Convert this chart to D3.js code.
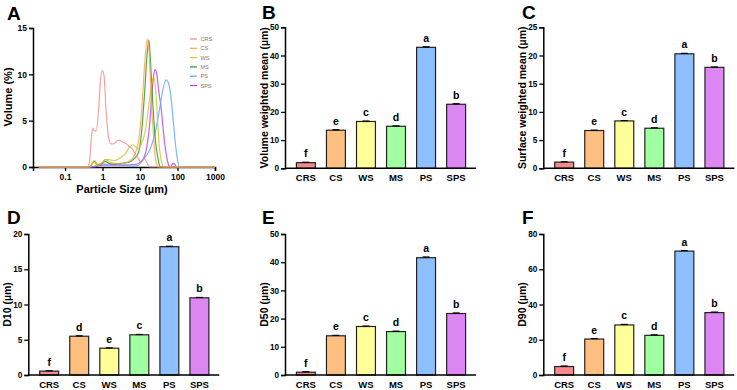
<!DOCTYPE html>
<html><head><meta charset="utf-8">
<script src="https://cdn.jsdelivr.net/npm/d3@7"></script>
<style>
html,body{margin:0;padding:0;background:#fff;}
svg{display:block;font-family:Arial,"Liberation Sans",sans-serif;}
</style></head>
<body>
<svg id="chart" width="737" height="390"></svg>
<script>
// ---------- DATA ----------
const categories = ["CRS","CS","WS","MS","PS","SPS"];
const barColors = ["#F4898C","#FFBF80","#FFFF99","#A0FFA0","#8EBFFF","#DD88F2"];
const lineColors = ["#F48A8A","#FFA040","#C8C820","#239123","#5AA5FF","#B43CE6"];

const volMean  = [2.0, 13.5, 16.6, 14.9, 42.9, 22.7];
const volErr   = [0.15, 0.2, 0.15, 0.15, 0.2, 0.2];
const volLetters = ["f","e","c","d","a","b"];

const surfMean = [1.1, 6.7, 8.4, 7.1, 20.3, 17.9];
const surfErr  = [0.05, 0.06, 0.05, 0.08, 0.08, 0.06];
const surfLetters = ["f","e","c","d","a","b"];

const d10 = [0.55, 5.5, 3.8, 5.7, 18.2, 10.95];
const d10Err = [0.05, 0.06, 0.05, 0.05, 0.06, 0.05];
const d10Letters = ["f","d","e","c","a","b"];

const d50 = [1.0, 13.9, 17.2, 15.4, 41.6, 21.8];
const d50Err = [0.15, 0.15, 0.15, 0.15, 0.25, 0.2];
const d50Letters = ["f","e","c","d","a","b"];

const d90 = [4.8, 20.4, 28.4, 22.5, 70.3, 35.4];
const d90Err = [0.3, 0.3, 0.3, 0.3, 0.3, 0.3];
const d90Letters = ["f","e","c","d","a","b"];

// particle size distribution: [size (µm), volume (%)]
const psdCRS = [[0.02,0],[0.4,0],[0.45,0.6],[0.5,3.0],[0.55,4.2],[0.6,3.9],[0.68,3.9],[0.78,6],[0.88,9.3],[1.0,10.4],[1.1,9.8],[1.25,6],[1.45,3.2],[1.7,2.5],[2.0,2.5],[2.4,2.8],[2.85,2.9],[3.4,2.7],[4.3,2.5],[5.2,2.2],[6.4,1.9],[7.5,1.4],[8.7,1.0],[10.8,0.5],[13.2,0.9],[16,0.3],[18,0],[1000,0]];
const psdCS  = [[0.02,0],[0.45,0],[0.6,0.7],[0.75,0.3],[0.9,0.4],[1.2,0.8],[1.5,0.6],[2,0.4],[3,0.35],[4,0.4],[5,0.6],[6.5,1.0],[8,1.8],[9.7,3.5],[11,6],[12,8.3],[13.5,11.5],[15.5,13.8],[17,13],[18.7,9.9],[20,7],[22,4.5],[24,2.2],[26,0.9],[28,0.2],[30,0],[1000,0]];
const psdWS  = [[0.02,0],[0.45,0],[0.6,0.5],[0.75,0.2],[0.9,0.3],[1.2,0.8],[1.5,0.8],[2,0.7],[2.5,0.8],[3,1.0],[4,1.4],[5,2.0],[6.3,2.4],[7.5,2.2],[9,2.0],[11,2.5],[14,4],[17,6.5],[20,8.8],[23,9.7],[25,9.2],[28,6.5],[30,4.5],[33,2],[36.5,0.8],[40,0.2],[43,0],[1000,0]];
const psdMS  = [[0.02,0],[0.45,0],[0.6,0.6],[0.75,0.2],[0.9,0.3],[1.2,0.6],[1.5,0.4],[2,0.3],[3,0.4],[5,0.5],[7,0.9],[9,1.5],[10.5,3],[12,5.5],[13.5,8.5],[15,11.5],[17.2,13.7],[19,11.5],[21,8.1],[23.5,5],[26,2.7],[30,1.0],[33,0.2],[35,0],[1000,0]];
const psdPS  = [[0.02,0],[0.5,0],[0.7,0.2],[1,0.3],[2,0.3],[3,0.25],[4,0.2],[5,0.1],[7,0.1],[9,0.2],[11,0.6],[14,1.1],[18,1.8],[22,2.8],[27,4.2],[33,6.2],[40,8.2],[50,9.4],[58,9.0],[67,7.5],[77,5],[88,2.5],[100,0.8],[113,0],[1000,0]];
const psdSPS = [[0.02,0],[0.5,0],[0.8,0.1],[1,0.2],[2,0.2],[3,0.2],[4,0.2],[6,0.25],[8,0.3],[10,0.5],[12,0.8],[15,2],[18,4.5],[20,7],[23,9.8],[25.5,10.5],[28,10],[32,8],[36.5,6.4],[41,4.3],[45,2.7],[52,1.0],[58,0.2],[64,0],[70,0.2],[77,0.4],[85,0.3],[95,0],[1000,0]];
const psdSeries = [psdCRS, psdCS, psdWS, psdMS, psdPS, psdSPS];

const psdXTicks = [0.1, 1, 10, 100, 1000];
const psdYTicks = [0, 5, 10, 15];

// ---------- DRAW ----------
const svg = d3.select("#chart");
const FONT = 'Arial,"Liberation Sans",sans-serif';

function panelLabel(t, x, y){
  svg.append("text").attr("x",x).attr("y",y).attr("font-size",19).attr("font-weight","bold").text(t);
}

// Panel A
(function(){
  const x = d3.scaleLog().domain([0.014, 1000]).range([33, 215]);
  const y = d3.scaleLinear().domain([0, 15]).range([167, 28]);
  const g = svg.append("g");
  const yAx = g.append("g").attr("transform","translate(33,0)")
    .call(d3.axisLeft(y).tickValues(psdYTicks).tickSize(4).tickPadding(2).tickFormat(d3.format("d")));
  const xAx = g.append("g").attr("transform","translate(0,167)")
    .call(d3.axisBottom(x).tickValues(psdXTicks).tickSize(4).tickPadding(3).tickFormat(d=>String(d)));
  [yAx,xAx].forEach(a=>{
    a.select(".domain").attr("stroke","#000").attr("stroke-width",1.5);
    a.selectAll(".tick line").attr("stroke","#000").attr("stroke-width",1.3);
    a.selectAll("text").attr("font-size",8.5).attr("font-weight","bold").attr("fill","#000").attr("font-family",FONT);
  });
  const line = d3.line().x(d=>x(d[0])).y(d=>y(d[1])).curve(d3.curveMonotoneX);
  for (let i = psdSeries.length-1; i >= 0; i--) {
    g.append("path").attr("d", line(psdSeries[i])).attr("fill","none")
      .attr("stroke", lineColors[i]).attr("stroke-width",1.2).attr("stroke-opacity",0.8);
  }
  categories.forEach((c,i)=>{
    const ly = 39 + i*9.3;
    g.append("line").attr("x1",190).attr("x2",197).attr("y1",ly).attr("y2",ly)
      .attr("stroke",lineColors[i]).attr("stroke-width",1.2);
    g.append("text").attr("x",200.5).attr("y",ly+2).attr("font-size",5.5).attr("fill","#777").text(c);
  });
  g.append("text").attr("x",122).attr("y",193).attr("text-anchor","middle")
    .attr("font-size",11).attr("font-weight","bold").text("Particle Size (µm)");
  g.append("text").attr("transform","translate(12,97) rotate(-90)").attr("text-anchor","middle")
    .attr("font-size",11).attr("font-weight","bold").text("Volume (%)");
  panelLabel("A", 7, 20);
})();

function barPanel(o){
  const y = d3.scaleLinear().domain([0, o.max]).range([o.bottom, o.top]);
  const x = d3.scaleBand().domain(categories).range([o.ax+6, o.ax+186]).paddingInner(0.37).paddingOuter(0.18);
  const g = svg.append("g");
  const bw = x.bandwidth();
  g.selectAll("rect.bar").data(categories).enter().append("rect")
    .attr("x", c=>x(c)).attr("width", bw)
    .attr("y", (c,i)=>y(o.values[i])).attr("height",(c,i)=>o.bottom - y(o.values[i]))
    .attr("fill",(c,i)=>barColors[i]).attr("stroke","#222").attr("stroke-width",1.2);
  categories.forEach((c,i)=>{
    const cx = x(c)+bw/2, top = y(o.values[i]+o.errs[i]);
    g.append("line").attr("x1",cx).attr("x2",cx).attr("y1",y(o.values[i])).attr("y2",top).attr("stroke","#000").attr("stroke-width",1);
    g.append("line").attr("x1",cx-3.5).attr("x2",cx+3.5).attr("y1",top).attr("y2",top).attr("stroke","#000").attr("stroke-width",1.2);
    g.append("text").attr("x",cx).attr("y",top-5).attr("text-anchor","middle")
      .attr("font-size",10.5).attr("font-weight","bold").text(o.letters[i]);
    g.append("text").attr("x",cx).attr("y",o.bottom+12.5).attr("text-anchor","middle")
      .attr("font-size",9.5).attr("font-weight","bold").text(c);
  });
  const yAx = g.append("g").attr("transform",`translate(${o.ax},0)`)
    .call(d3.axisLeft(y).tickValues(d3.range(0, o.max+0.001, o.step)).tickSize(4).tickPadding(2).tickFormat(d3.format("d")));
  yAx.select(".domain").attr("stroke","#000").attr("stroke-width",1.5);
  yAx.selectAll(".tick line").attr("stroke","#000").attr("stroke-width",1.3);
  yAx.selectAll("text").attr("font-size",8.2).attr("font-weight","bold").attr("fill","#000").attr("font-family",FONT);
  g.append("line").attr("x1",o.ax).attr("x2",o.ax+191).attr("y1",o.bottom).attr("y2",o.bottom)
    .attr("stroke","#000").attr("stroke-width",1.5);
  g.append("text").attr("transform",`translate(${o.ax-17.5},${(o.top+o.bottom)/2}) rotate(-90)`)
    .attr("text-anchor","middle").attr("font-size",10.5).attr("font-weight","bold").text(o.title);
  panelLabel(o.label, o.lx, o.ly);
}

barPanel({ax:285, top:27.3, bottom:168.3, max:50, step:10, values:volMean, errs:volErr, letters:volLetters, title:"Volume weighted mean (µm)", label:"B", lx:262, ly:19});
barPanel({ax:543.3, top:27.3, bottom:168.3, max:25, step:5, values:surfMean, errs:surfErr, letters:surfLetters, title:"Surface weighted mean (µm)", label:"C", lx:522, ly:19});
barPanel({ax:28.3, top:234, bottom:375, max:20, step:5, values:d10, errs:d10Err, letters:d10Letters, title:"D10 (µm)", label:"D", lx:7, ly:224});
barPanel({ax:285, top:234, bottom:375, max:50, step:10, values:d50, errs:d50Err, letters:d50Letters, title:"D50 (µm)", label:"E", lx:262, ly:224});
barPanel({ax:543.3, top:234, bottom:375, max:80, step:20, values:d90, errs:d90Err, letters:d90Letters, title:"D90 (µm)", label:"F", lx:522, ly:224});
</script>
</body></html>
